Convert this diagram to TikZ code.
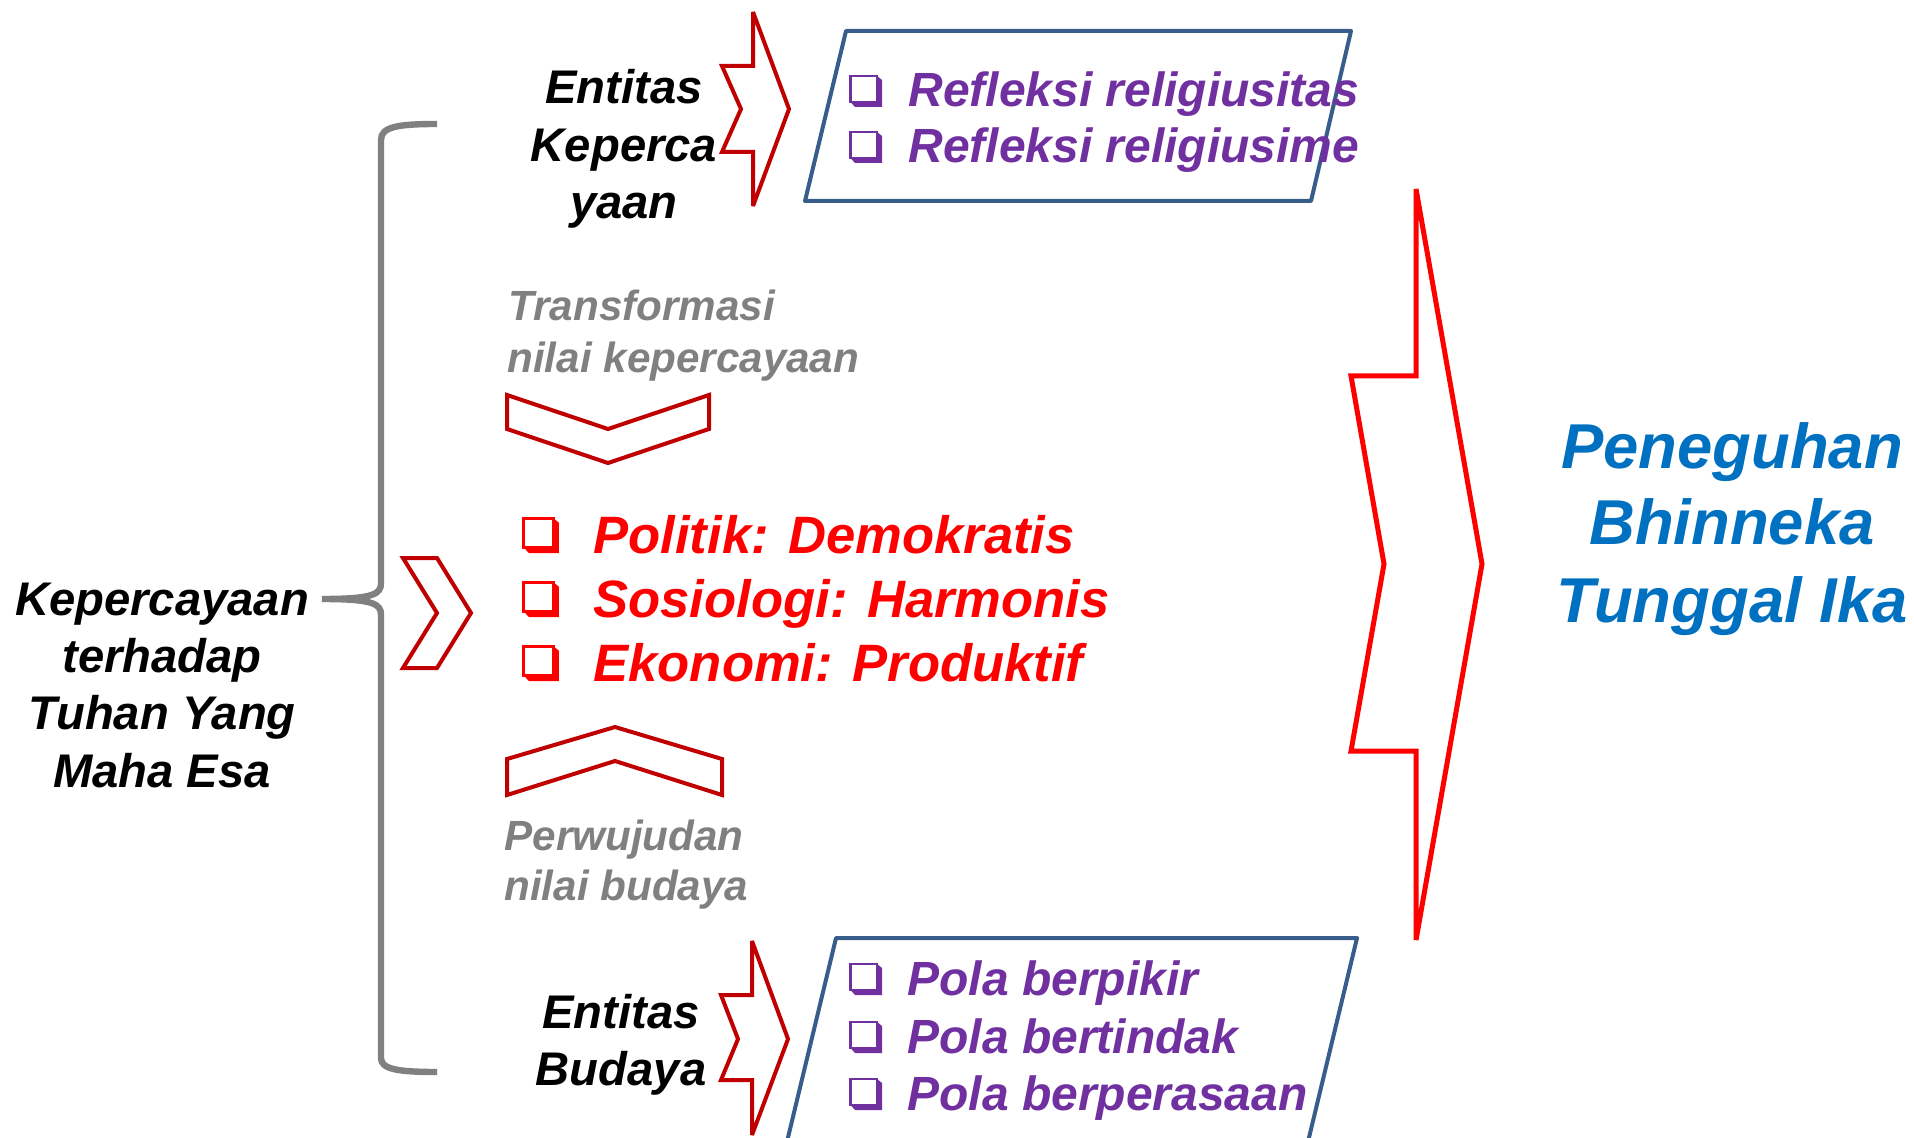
\documentclass[tikz,border=0pt]{standalone}
\usepackage{fontspec}
\setmainfont{Liberation Sans}
\definecolor{dred}{HTML}{C00000}
\definecolor{bred}{HTML}{FF0000}
\definecolor{cpurple}{HTML}{7030A0}
\definecolor{cblue}{HTML}{0070C0}
\definecolor{boxblue}{HTML}{385D8A}
\definecolor{cgray}{HTML}{808080}
\begin{document}
\begin{tikzpicture}[x=0.5pt,y=-0.5pt,
  bt/.style={font=\bfseries\itshape\fontsize{23.6}{28}\selectfont, inner sep=0pt, anchor=base},
  gt/.style={font=\bfseries\itshape\fontsize{21.1}{26}\selectfont, text=cgray, inner sep=0pt, anchor=base west},
  rt/.style={font=\bfseries\itshape\fontsize{26.3}{32}\selectfont, text=bred, inner sep=0pt, anchor=base west},
  pt/.style={font=\bfseries\itshape\fontsize{24}{29}\selectfont, text=cpurple, inner sep=0pt, anchor=base west},
  blt/.style={font=\bfseries\itshape\fontsize{31.7}{38}\selectfont, text=cblue, inner sep=0pt, anchor=base},
  darkarrow/.style={draw=dred, line width=2pt, miter limit=4},
  bigarrow/.style={draw=bred, line width=2.5pt, miter limit=4},
  boxs/.style={draw=boxblue, line width=2pt, line join=round},
  bracestyle/.style={draw=cgray, line width=3.2pt},
  cbox/.pic={
    \draw[line width=1.3pt] (1.5,-31) rectangle (28,-5);
    \fill (1.5,-5) -- (6,0) -- (33,0) -- (33,-27) -- (28,-31) -- (28,-5) -- cycle;
  }]
\useasboundingbox (0,0) rectangle (1914,1138);

% brace
\draw[bracestyle] (437,124) .. controls (397,124) and (381,127) .. (381,140)
  -- (381,583) .. controls (381,594) and (374,599) .. (322,599)
  .. controls (374,599) and (381,604) .. (381,615)
  -- (381,1058) .. controls (381,1069) and (397,1072) .. (437,1072);

% left text
\node[bt] (k1) at (162,615) {Kepercayaan};
\node[bt] (k2) at (162,672) {terhadap};
\node[bt] (k3) at (162,729) {Tuhan Yang};
\node[bt] (k4) at (162,787) {Maha Esa};

% small right chevron
\draw[darkarrow] (403,558) -- (437,558) -- (471,613) -- (437,668) -- (403,668) -- (437,613) -- cycle;

% top entity
\node[bt] (e1) at (624,104) {Entitas};
\node[bt] (e2) at (624,162) {Keperca};
\node[bt] (e3) at (624,219) {yaan};
\draw[darkarrow] (753,12) -- (789,109) -- (753,206) -- (753,152) -- (722,152) -- (741,109) -- (722,66) -- (753,66) -- cycle;
\draw[boxs] (846,31) -- (1351,31) -- (1311,201) -- (805,201) -- cycle;
\pic[color=cpurple] at (849,107) {cbox};
\pic[color=cpurple] at (849,163) {cbox};
\node[pt] (pu1) at (908,107) {Refleksi religiusitas};
\node[pt] (pu2) at (908,163) {Refleksi religiusime};

% gray labels and chevrons
\node[gt] (t1) at (508,321) {Transformasi};
\node[gt] (t2) at (507,373) {nilai kepercayaan};
\draw[darkarrow] (507,395) -- (608,429) -- (709,395) -- (709,429) -- (608,463) -- (507,429) -- cycle;
\draw[darkarrow] (507,759) -- (615,727) -- (722,759) -- (722,795) -- (615,761) -- (507,795) -- cycle;
\node[gt] (p1) at (504,850) {Perwujudan};
\node[gt] (p2) at (504,900) {nilai budaya};

% red items
\pic[color=bred, scale=1.12] at (522,553) {cbox};
\pic[color=bred, scale=1.12] at (522,617) {cbox};
\pic[color=bred, scale=1.12] at (522,681) {cbox};
\node[rt] (r1) at (593,553) {Politik: Demokratis};
\node[rt] (r2) at (593,617) {Sosiologi: Harmonis};
\node[rt] (r3) at (593,681) {Ekonomi: Produktif};

% bottom entity
\node[bt] (b1) at (621,1028) {Entitas};
\node[bt] (b2) at (621,1085) {Budaya};
\draw[darkarrow] (752,941) -- (788,1039) -- (752,1135) -- (752,1080) -- (721,1080) -- (738,1039) -- (721,995) -- (752,995) -- cycle;
\draw[boxs] (836,938) -- (1357,938) -- (1306,1150) -- (785,1150) -- cycle;
\pic[color=cpurple] at (849,995) {cbox};
\pic[color=cpurple] at (849,1053) {cbox};
\pic[color=cpurple] at (849,1110) {cbox};
\node[pt] (pb1) at (907,995) {Pola berpikir};
\node[pt] (pb2) at (907,1053) {Pola bertindak};
\node[pt] (pb3) at (907,1110) {Pola berperasaan};

% big arrow
\draw[bigarrow] (1416,189) -- (1482,564) -- (1416,940) -- (1416,751) -- (1351,751) -- (1384,564) -- (1351,376) -- (1416,376) -- cycle;

% result
\node[blt] (bl1) at (1732,468) {Peneguhan};
\node[blt] (bl2) at (1732,544) {Bhinneka};
\node[blt] (bl3) at (1732,622) {Tunggal Ika};
\end{tikzpicture}
\end{document}
